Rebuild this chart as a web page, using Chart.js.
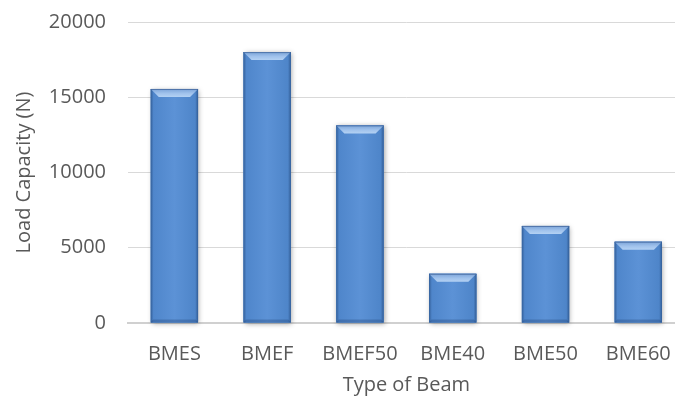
<!DOCTYPE html>
<html><head><meta charset="utf-8">
<script src="https://cdn.jsdelivr.net/npm/chart.js@4/dist/chart.umd.min.js"></script>
<style>
html,body{margin:0;padding:0;overflow:hidden;background:#fff;}
#wrap{width:690px;height:403px;}
</style></head>
<body><div id="wrap"><canvas id="c" width="690" height="403"></canvas></div>
<script>
const categories = ["BMES","BMEF","BMEF50","BME40","BME50","BME60"];
const loadCapacity = [15550, 18000, 13130, 3270, 6450, 5400];
const yTicks = [0, 5000, 10000, 15000, 20000];

const FONT = '"Open Sans", sans-serif';
const TXT = '#595959';

const bevelPlugin = {
  id: 'bevel',
  beforeDatasetsDraw(chart) {
    const ctx = chart.ctx;
    chart.getDatasetMeta(0).data.forEach(bar => {
      const w = bar.width, l = bar.x - w/2, t = bar.y, h = bar.base - bar.y;
      ctx.save();
      ctx.shadowColor = 'rgba(0,0,0,0.35)';
      ctx.shadowBlur = 5;
      ctx.shadowOffsetX = 1;
      ctx.shadowOffsetY = 1;
      ctx.fillStyle = '#4a7dbf';
      ctx.fillRect(l, t, w, h);
      ctx.restore();
    });
  },
  afterDatasetsDraw(chart) {
    const ctx = chart.ctx;
    chart.getDatasetMeta(0).data.forEach(bar => {
      const w = bar.width, l = bar.x - w/2, r = bar.x + w/2, t = bar.y, b = bar.base;
      const bv = 8, sd = 2.5;
      ctx.save();
      const g = ctx.createLinearGradient(l, 0, r, 0);
      g.addColorStop(0, '#34609a');
      g.addColorStop(0.06, '#4f86cb');
      g.addColorStop(0.5, '#5c92d6');
      g.addColorStop(0.94, '#4e85c9');
      g.addColorStop(1, '#325d96');
      ctx.fillStyle = g;
      ctx.fillRect(l, t, w, b - t);
      ctx.fillStyle = 'rgba(30,60,110,0.3)';
      ctx.beginPath();
      ctx.moveTo(l, b); ctx.lineTo(r, b); ctx.lineTo(r - sd, b - 3); ctx.lineTo(l + sd, b - 3); ctx.closePath();
      ctx.fill();
      const tg = ctx.createLinearGradient(0, t, 0, t + bv);
      tg.addColorStop(0, '#7aa3d8');
      tg.addColorStop(0.55, '#a0c2ec');
      tg.addColorStop(1, '#b3d1f3');
      ctx.fillStyle = tg;
      ctx.beginPath();
      ctx.moveTo(l, t); ctx.lineTo(r, t); ctx.lineTo(r - bv, t + bv); ctx.lineTo(l + bv, t + bv); ctx.closePath();
      ctx.fill();
      ctx.strokeStyle = 'rgba(40,75,130,0.55)';
      ctx.lineWidth = 1;
      ctx.beginPath(); ctx.moveTo(l, t + 0.5); ctx.lineTo(r, t + 0.5); ctx.stroke();
      ctx.restore();
    });
  }
};

new Chart(document.getElementById('c'), {
  type: 'bar',
  data: {
    labels: categories,
    datasets: [{
      data: loadCapacity,
      backgroundColor: '#4f86c9',
      borderWidth: 0,
      categoryPercentage: 1.0,
      barPercentage: 0.51
    }]
  },
  options: {
    responsive: false,
    animation: false,
    events: [],
    layout: { padding: { top: 22, right: 3, bottom: 6, left: 0 } },
    plugins: { legend: { display: false }, tooltip: { enabled: false } },
    scales: {
      x: {
        grid: { display: false, drawTicks: false },
        border: { display: true, color: '#d0d0d0', width: 2 },
        ticks: { color: TXT, font: { family: FONT, size: 20 }, padding: 19, maxRotation: 0, autoSkip: false },
        title: { display: true, text: 'Type of Beam', color: TXT, font: { family: FONT, size: 20 }, padding: { top: -12, bottom: 0 } }
      },
      y: {
        min: 0, max: 20000,
        afterBuildTicks(scale) { scale.ticks = yTicks.map(v => ({ value: v })); },
        afterFit(scale) { scale.width = 128; },
        grid: { color: '#d9d9d9', lineWidth: 1, drawTicks: true, tickLength: 22, tickColor: 'rgba(0,0,0,0)' },
        border: { display: false },
        ticks: { color: TXT, font: { family: FONT, size: 20 }, padding: 0, callback: v => String(v) },
        title: { display: true, text: 'Load Capacity (N)', color: TXT, font: { family: FONT, size: 20 }, padding: { top: 12, bottom: 0 } }
      }
    }
  },
  plugins: [bevelPlugin]
});
</script></body></html>
